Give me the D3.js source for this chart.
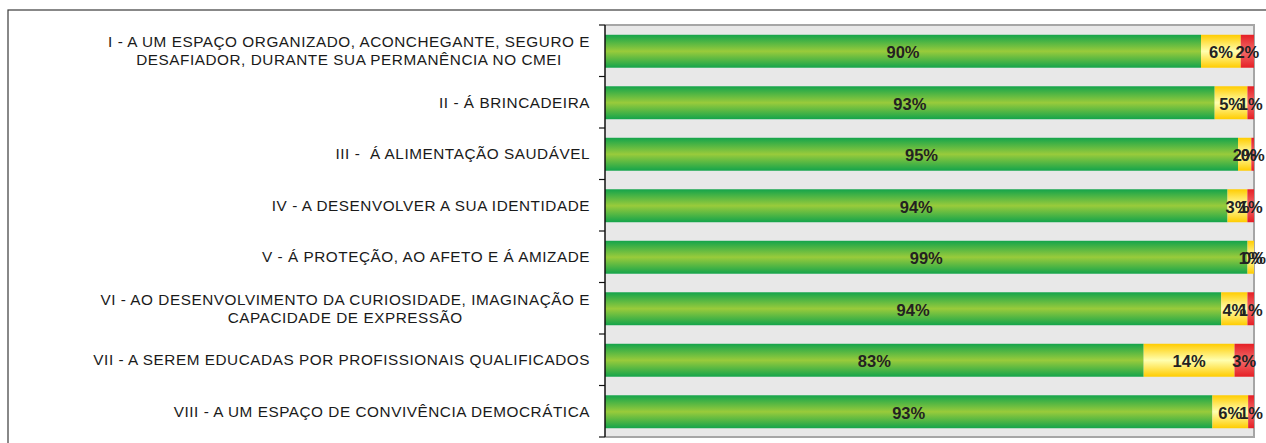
<!DOCTYPE html>
<html><head><meta charset="utf-8">
<script src="https://cdn.jsdelivr.net/npm/d3@7"></script>
<style>
html,body{margin:0;padding:0;background:#fff;}
svg{display:block;}
text{font-family:"Liberation Sans",Arial,sans-serif;}
</style></head>
<body>
<svg id="chart" width="1266" height="443"></svg>
<script>
const categories = [
  "I - A UM ESPAÇO ORGANIZADO, ACONCHEGANTE, SEGURO E\nDESAFIADOR, DURANTE SUA PERMANÊNCIA NO CMEI",
  "II - Á BRINCADEIRA",
  "III -  Á ALIMENTAÇÃO SAUDÁVEL",
  "IV - A DESENVOLVER A SUA IDENTIDADE",
  "V - Á PROTEÇÃO, AO AFETO E Á AMIZADE",
  "VI - AO DESENVOLVIMENTO DA CURIOSIDADE, IMAGINAÇÃO E\nCAPACIDADE DE EXPRESSÃO",
  "VII - A SEREM EDUCADAS POR PROFISSIONAIS QUALIFICADOS",
  "VIII - A UM ESPAÇO DE CONVIVÊNCIA DEMOCRÁTICA"
];
const valGreen  = [90, 93, 95, 94, 99, 94, 83, 93.4];
const valYellow = [6, 5, 2, 3, 1, 4, 14, 5.5];
const valRed    = [2, 1, 0.4, 1, 0, 1, 3, 0.9];
const seriesKeys = ["green", "yellow", "red"];

const svg = d3.select("#chart");
const defs = svg.append("defs");
function grad(id, edge, mid) {
  const g = defs.append("linearGradient").attr("id", id)
    .attr("x1", 0).attr("y1", 0).attr("x2", 0).attr("y2", 1);
  g.append("stop").attr("offset", "0%").attr("stop-color", edge);
  g.append("stop").attr("offset", "50%").attr("stop-color", mid);
  g.append("stop").attr("offset", "100%").attr("stop-color", edge);
}
grad("gGreen", "#14a44b", "#99cb3b");
grad("gYellow", "#ffcc00", "#ffffb0");
grad("gRed", "#e51f25", "#f26a6a");
const fills = {green: "url(#gGreen)", yellow: "url(#gYellow)", red: "url(#gRed)"};

// outer frame
svg.append("rect").attr("x", 8).attr("y", 10).attr("width", 1300).attr("height", 500)
  .attr("fill", "#fff").attr("stroke", "#3a3a3a").attr("stroke-width", 1.2);

const pLeft = 605, pRight = 1254, pTop = 25, pBottom = 437;
const rows = categories.map((c, i) => ({cat: c, green: valGreen[i], yellow: valYellow[i], red: valRed[i]}));
const stacked = d3.stack().keys(seriesKeys).offset(d3.stackOffsetExpand)(rows);

const x = d3.scaleLinear().domain([0, 1]).range([pLeft, pRight]);
const y = d3.scaleBand().domain(categories).range([pTop, pBottom])
  .paddingInner(0.36).paddingOuter(0.18);

// plot background
svg.append("rect").attr("x", pLeft).attr("y", pTop).attr("width", pRight - pLeft).attr("height", pBottom - pTop)
  .attr("fill", "#e8e8e8");
svg.append("path").attr("d", `M${pLeft},${pTop}H${pRight}V${pBottom}H${pLeft}`)
  .attr("fill", "none").attr("stroke", "#a6a6a6").attr("stroke-width", 2);

// bars
const layer = svg.append("g").selectAll("g").data(stacked).join("g")
  .attr("fill", d => fills[d.key]);
layer.selectAll("rect").data(d => d).join("rect")
  .attr("x", d => x(d[0]))
  .attr("width", d => x(d[1]) - x(d[0]))
  .attr("y", d => y(d.data.cat) + 0.5)
  .attr("height", y.bandwidth());

// value labels
const lab = svg.append("g");
stacked.forEach(s => {
  lab.selectAll(null).data(s).join("text")
    .attr("x", d => (x(d[0]) + x(d[1])) / 2)
    .attr("y", d => y(d.data.cat) + y.bandwidth() / 2 + 1.5)
    .attr("text-anchor", "middle")
    .attr("dominant-baseline", "central")
    .attr("font-size", 16.5)
    .attr("font-weight", "bold")
    .attr("fill", "#222")
    .text(d => Math.round(d.data[s.key]) + "%");
});

// left axis with ticks at band boundaries
const ax = svg.append("g");
ax.append("line").attr("x1", pLeft).attr("x2", pLeft).attr("y1", pTop).attr("y2", pBottom)
  .attr("stroke", "#111").attr("stroke-width", 1.5);
const bounds = d3.range(categories.length + 1).map(i => pTop + i * y.step());
ax.selectAll(".tk").data(bounds).join("line")
  .attr("x1", pLeft - 6).attr("x2", pLeft).attr("y1", d => d).attr("y2", d => d)
  .attr("stroke", "#111").attr("stroke-width", 1.2);

// category labels
const labelRight = 590;
const cg = svg.append("g");
categories.forEach(c => {
  const lines = c.split("\n");
  const cy = y(c) + y.bandwidth() / 2;
  const lh = 18;
  const g = cg.append("g");
  const texts = lines.map((ln, j) => g.append("text")
    .attr("y", cy + (j - (lines.length - 1) / 2) * lh)
    .attr("dominant-baseline", "central")
    .attr("font-size", 15.3)
    .attr("letter-spacing", 0.55)
    .attr("fill", "#1a1a1a")
    .style("white-space", "pre")
    .text(ln));
  const widths = texts.map(t => t.node().getComputedTextLength());
  const maxW = d3.max(widths);
  const center = labelRight - maxW / 2;
  texts.forEach(t => t.attr("x", center).attr("text-anchor", "middle"));
});
</script>
</body></html>
